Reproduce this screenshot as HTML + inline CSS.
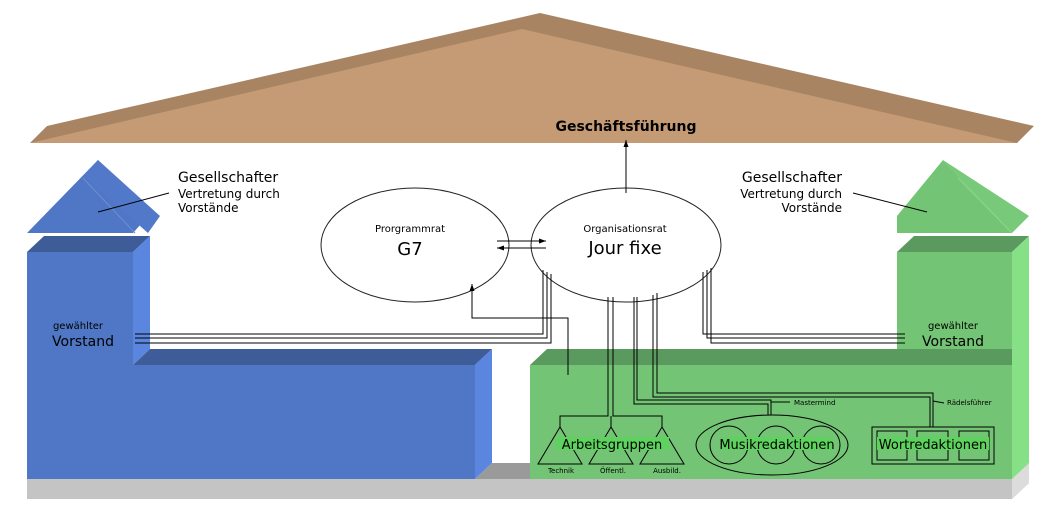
<!DOCTYPE html>
<html><head><meta charset="utf-8"><style>
html,body{margin:0;padding:0;background:#fff;}
svg text{font-family:"DejaVu Sans","Liberation Sans",sans-serif;}
</style></head><body>
<svg width="1054" height="508" viewBox="0 0 1054 508" xmlns="http://www.w3.org/2000/svg">
<defs><marker id="a" markerWidth="8" markerHeight="8" refX="7" refY="4" orient="auto"><path d="M0,1.5 L7,4 L0,6.5z" fill="#000"/></marker></defs>
<!-- roof -->
<polygon points="30,143 47,126 540,13 1034,126 1017,143" fill="#a88462"/>
<polygon points="30,143 522,29 1017,143" fill="#c49b74"/>
<!-- floor -->
<polygon points="27,479 1012,479 1029,463 1029,483 1012,499 27,499" fill="#c4c4c4"/>
<polygon points="1012,479 1029,463 1029,483 1012,499" fill="#dcdcdc"/>
<polygon points="475,479 492,463 530,463 530,479" fill="#9a9a9a"/>
<!-- blue -->
<polygon points="27,233 98,160 148,216 133,233" fill="#4f77c5"/>
<polygon points="98,160 160,216 148,233 83,176" fill="#5279c9"/>
<line x1="83" y1="178" x2="135" y2="233" stroke="#6a8fd5" stroke-width="1"/>
<polygon points="27,252 44,236 150,236 133,252" fill="#3e5d98"/>
<rect x="27" y="252" width="106" height="113" fill="#4f77c5"/>
<polygon points="133,252 150,236 150,349 133,365" fill="#5b86e0"/>
<polygon points="133,365 150,349 492,349 475,365" fill="#3e5d98"/>
<rect x="27" y="365" width="448" height="114" fill="#4f77c5"/>
<polygon points="475,365 492,349 492,463 475,479" fill="#5b86e0"/>
<!-- green -->
<polygon points="897,216 943,160 1012,233 897,233" fill="#74c476"/>
<polygon points="943,160 1029,216 1012,233 958,176" fill="#78c97a"/>
<line x1="958" y1="178" x2="1012" y2="233" stroke="#8ad88a" stroke-width="1"/>
<polygon points="897,252 914,236 1029,236 1012,252" fill="#5b9a5e"/>
<rect x="897" y="252" width="115" height="113" fill="#74c476"/>
<polygon points="1012,252 1029,236 1029,349 1012,365" fill="#86e086"/>
<polygon points="530,365 547,349 1012,349 1012,365" fill="#5b9a5e"/>
<rect x="530" y="365" width="482" height="114" fill="#74c476"/>
<polygon points="1012,349 1029,349 1029,463 1012,479" fill="#86e086"/>
<!-- ellipses -->
<ellipse cx="415" cy="245" rx="94" ry="57" fill="#fff" stroke="#222" stroke-width="1"/>
<ellipse cx="626" cy="245" rx="95" ry="57" fill="#fff" stroke="#222" stroke-width="1"/>
<text x="410" y="232" font-size="10" text-anchor="middle">Prorgrammrat</text>
<text x="410" y="255" font-size="18" text-anchor="middle">G7</text>
<text x="625" y="232" font-size="10" text-anchor="middle">Organisationsrat</text>
<text x="625" y="254" font-size="18" text-anchor="middle">Jour fixe</text>
<text x="626" y="131" font-size="14" font-weight="bold" text-anchor="middle">Geschäftsführung</text>
<g stroke="#000" stroke-width="1" fill="none">
<line x1="626" y1="193" x2="626" y2="140" marker-end="url(#a)"/>
<line x1="497" y1="241" x2="546" y2="241" marker-end="url(#a)"/>
<line x1="546" y1="248" x2="497" y2="248" marker-end="url(#a)"/>
<polyline points="543,270 543,334 135,334"/>
<polyline points="547,272 547,338 135,338"/>
<polyline points="551,274 551,343 135,343"/>
<polyline points="703,272 703,334 905,334"/>
<polyline points="707,270 707,338 905,338"/>
<polyline points="711,268 711,343 905,343"/>
<polyline points="568,375 568,318 472,318 472,284" marker-end="url(#a)"/>
<polyline points="608,297 608,416 560,416 560,427"/>
<polyline points="613,297 613,416 662,416 662,427"/>
<line x1="611" y1="416" x2="611" y2="427"/>
<polygon points="560,427 538,464 582,464"/>
<polygon points="611,427 589,464 633,464"/>
<polygon points="662,427 640,464 684,464"/>
<polyline points="634,297 634,404 768,404 768,415"/>
<polyline points="637,297 637,400 771,400 771,415"/>
<line x1="771" y1="402" x2="790" y2="402"/>
<ellipse cx="772" cy="445" rx="76" ry="30"/>
<circle cx="729" cy="445" r="19"/>
<circle cx="776" cy="445" r="19"/>
<circle cx="821" cy="445" r="19"/>
<polyline points="653,295 653,397 930,397 930,427"/>
<polyline points="657,293 657,393 933,393 933,427"/>
<line x1="933" y1="401" x2="944" y2="403"/>
<rect x="872" y="427" width="122" height="37"/>
<rect x="877" y="431" width="30" height="29"/>
<rect x="917" y="431" width="31" height="29"/>
<rect x="959" y="431" width="30" height="29"/>
<line x1="98" y1="212" x2="169" y2="193"/>
<line x1="853" y1="193" x2="927" y2="212"/>
</g>
<rect x="556" y="437" width="113" height="13" fill="#5ed25e"/>
<text x="612" y="449" font-size="13" text-anchor="middle">Arbeitsgruppen</text>
<rect x="721" y="437" width="112" height="13" fill="#5ed25e"/>
<text x="777" y="449" font-size="13" text-anchor="middle">Musikredaktionen</text>
<rect x="877" y="437" width="112" height="13" fill="#5ed25e"/>
<text x="933" y="449" font-size="13" text-anchor="middle">Wortredaktionen</text>
<text x="561" y="473" font-size="7" text-anchor="middle">Technik</text>
<text x="613" y="473" font-size="7" text-anchor="middle">Öffentl.</text>
<text x="667" y="473" font-size="7" text-anchor="middle">Ausbild.</text>
<text x="794" y="405" font-size="7">Mastermind</text>
<text x="947" y="405" font-size="7">Rädelsführer</text>
<text x="78" y="329" font-size="10" text-anchor="middle">gewählter</text>
<text x="83" y="346" font-size="14" text-anchor="middle">Vorstand</text>
<text x="953" y="329" font-size="10" text-anchor="middle">gewählter</text>
<text x="953" y="346" font-size="14" text-anchor="middle">Vorstand</text>
<text x="178" y="182" font-size="14">Gesellschafter</text>
<text x="178" y="198" font-size="12">Vertretung durch</text>
<text x="178" y="212" font-size="12">Vorstände</text>
<text x="842" y="182" font-size="14" text-anchor="end">Gesellschafter</text>
<text x="842" y="198" font-size="12" text-anchor="end">Vertretung durch</text>
<text x="842" y="212" font-size="12" text-anchor="end">Vorstände</text>
</svg>
</body></html>
